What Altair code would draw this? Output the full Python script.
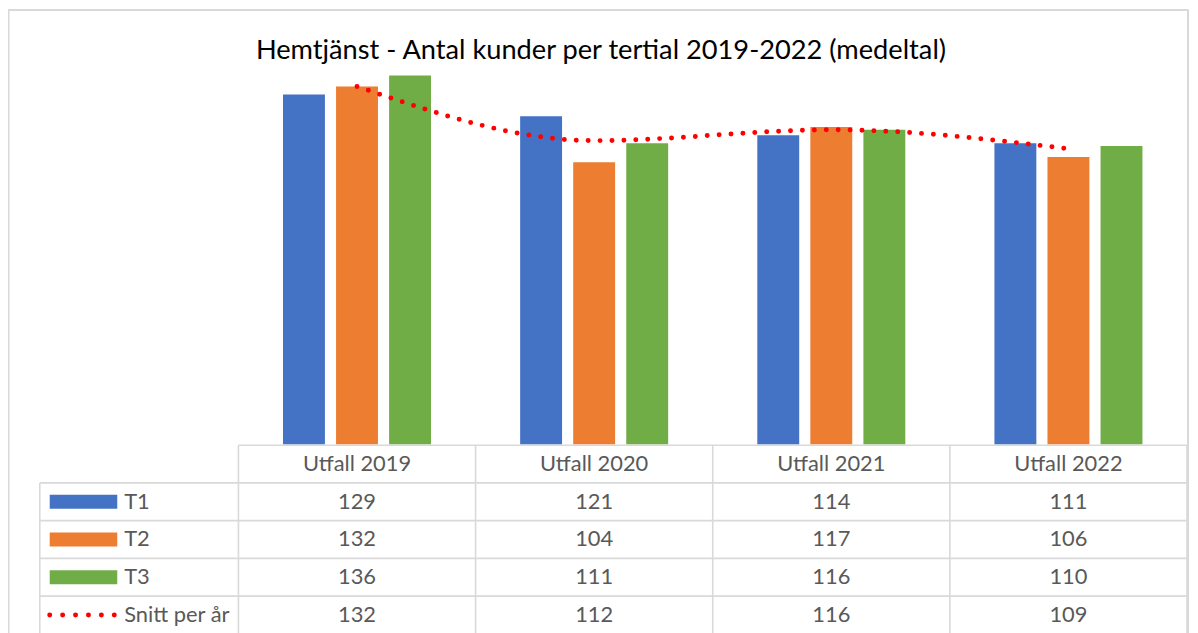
import altair as alt
import pandas as pd

# ---- data ----
years = ["Utfall 2019", "Utfall 2020", "Utfall 2021", "Utfall 2022"]
series = ["T1", "T2", "T3"]
t1 = [129, 121, 114, 111]
t2 = [132, 104, 117, 106]
t3 = [136, 111, 116, 110]
snitt = [132, 112, 116, 109]
title_text = "Hemtjänst - Antal kunder per tertial 2019-2022 (medeltal)"
row_labels = ["T1", "T2", "T3", "Snitt per år"]

colors = ["#4472C4", "#ED7D31", "#70AD47"]
line_color = "#FF0000"
grid_color = "#D9D9D9"
text_color = "#595959"
FONT = "Lato"

W, H = 1190, 630

bars_df = pd.DataFrame(
    [{"year": y, "series": s, "value": v}
     for s, vals in zip(series, [t1, t2, t3]) for y, v in zip(years, vals)]
)
line_df = pd.DataFrame({"year": years, "value": snitt})

table_rows = []
for y in years:
    table_rows.append({"year": y, "row": 0.5, "txt": y})
for i, vals in enumerate([t1, t2, t3, snitt]):
    for y, v in zip(years, vals):
        table_rows.append({"year": y, "row": i + 1.5, "txt": str(v)})
table_df = pd.DataFrame(table_rows)

label_df = pd.DataFrame({"label": row_labels, "row": [1.5, 2.5, 3.5, 4.5]})
key_df = pd.DataFrame({"label": series, "row": [1.5, 2.5, 3.5]})
snitt_key_df = pd.DataFrame({"row": [4.5]})

xscale = alt.Scale(domain=years, range=[232, 1187], paddingInner=0, paddingOuter=0)
yval = alt.Scale(domain=[0, 140], range=[437, 55], nice=False, zero=True)
yrow = alt.Scale(domain=[0, 5], range=[438, 628], nice=False, zero=False)

X = alt.X("year:N", scale=xscale, axis=None, sort=years)

bars = alt.Chart(bars_df).mark_bar().encode(
    x=X,
    xOffset=alt.XOffset("series:N", sort=series,
                        scale=alt.Scale(paddingInner=0.21, paddingOuter=0.84)),
    y=alt.Y("value:Q", scale=yval, axis=None),
    color=alt.Color("series:N", scale=alt.Scale(domain=series, range=colors), legend=None),
)

line = alt.Chart(line_df).mark_line(
    color=line_color, strokeWidth=5, strokeDash=[0, 12], strokeCap="round",
    interpolate="monotone"
).encode(
    x=X,
    y=alt.Y("value:Q", scale=yval, axis=None),
)

title = alt.Chart(pd.DataFrame({"t": [title_text]})).mark_text(
    font=FONT, fontSize=27.4, color="#000000", align="center", baseline="alphabetic"
).encode(text="t:N", x=alt.value(597), y=alt.value(49))

table_text = alt.Chart(table_df).mark_text(
    font=FONT, fontSize=22, color=text_color, baseline="middle", align="center"
).encode(
    x=X,
    y=alt.Y("row:Q", scale=yrow, axis=None),
    text="txt:N",
)

labels = alt.Chart(label_df).mark_text(
    font=FONT, fontSize=22, color=text_color, baseline="middle", align="left"
).encode(
    x=alt.value(117),
    y=alt.Y("row:Q", scale=yrow, axis=None),
    text="label:N",
)

keys = alt.Chart(key_df).mark_rule(strokeWidth=14).encode(
    x=alt.value(42), x2=alt.value(110),
    y=alt.Y("row:Q", scale=yrow, axis=None),
    color=alt.Color("label:N", scale=alt.Scale(domain=series, range=colors), legend=None),
)

snitt_key = alt.Chart(snitt_key_df).mark_rule(
    color=line_color, strokeWidth=5, strokeDash=[0, 13], strokeCap="round"
).encode(
    x=alt.value(42), x2=alt.value(108),
    y=alt.Y("row:Q", scale=yrow, axis=None),
)

# table grid
GW = 1.6
vgrid_df = pd.DataFrame({"year": years, "y0": [0] * 4, "y1": [5] * 4})
vgrid = alt.Chart(vgrid_df).mark_rule(color=grid_color, strokeWidth=GW).encode(
    x=alt.X("year:N", scale=xscale, axis=None, sort=years, bandPosition=0),
    y=alt.Y("y0:Q", scale=yrow, axis=None), y2="y1:Q",
)
vgrid_end = alt.Chart(vgrid_df.tail(1)).mark_rule(color=grid_color, strokeWidth=GW).encode(
    x=alt.X("year:N", scale=xscale, axis=None, sort=years, bandPosition=1),
    y=alt.Y("y0:Q", scale=yrow, axis=None), y2="y1:Q",
)
vleft = alt.Chart(pd.DataFrame({"y0": [1], "y1": [5]})).mark_rule(
    color=grid_color, strokeWidth=GW).encode(
    x=alt.value(32), y=alt.Y("y0:Q", scale=yrow, axis=None), y2="y1:Q",
)
hhead = alt.Chart(pd.DataFrame({"r": [0]})).mark_rule(
    color=grid_color, strokeWidth=GW).encode(
    x=alt.value(232), x2=alt.value(1187), y=alt.Y("r:Q", scale=yrow, axis=None),
)
hrows = alt.Chart(pd.DataFrame({"r": [1, 2, 3, 4]})).mark_rule(
    color=grid_color, strokeWidth=GW).encode(
    x=alt.value(32), x2=alt.value(1187), y=alt.Y("r:Q", scale=yrow, axis=None),
)

# outer chart-area border (left, top, right)
border = alt.Chart(pd.DataFrame({"b": [0]})).mark_rule(
    color="#D9D9D9", strokeWidth=2).encode(
    x=alt.value(0.5), y=alt.value(0), y2=alt.value(H))
border_top = alt.Chart(pd.DataFrame({"b": [0]})).mark_rule(
    color="#D9D9D9", strokeWidth=2).encode(
    x=alt.value(0), x2=alt.value(1188.5), y=alt.value(0))
border_right = alt.Chart(pd.DataFrame({"b": [0]})).mark_rule(
    color="#D9D9D9", strokeWidth=2).encode(
    x=alt.value(1188), y=alt.value(0), y2=alt.value(H))

chart = alt.layer(
    border, border_top, border_right,
    vgrid, vgrid_end, vleft, hhead, hrows,
    bars, line, title, table_text, labels, keys, snitt_key,
).resolve_scale(y="independent", color="independent").properties(
    width=W, height=H, padding=0,
    autosize=alt.AutoSizeParams(type="none"),
).configure_view(stroke=None)

chart.save("out.html", embed_options={"renderer": "svg", "actions": False})
